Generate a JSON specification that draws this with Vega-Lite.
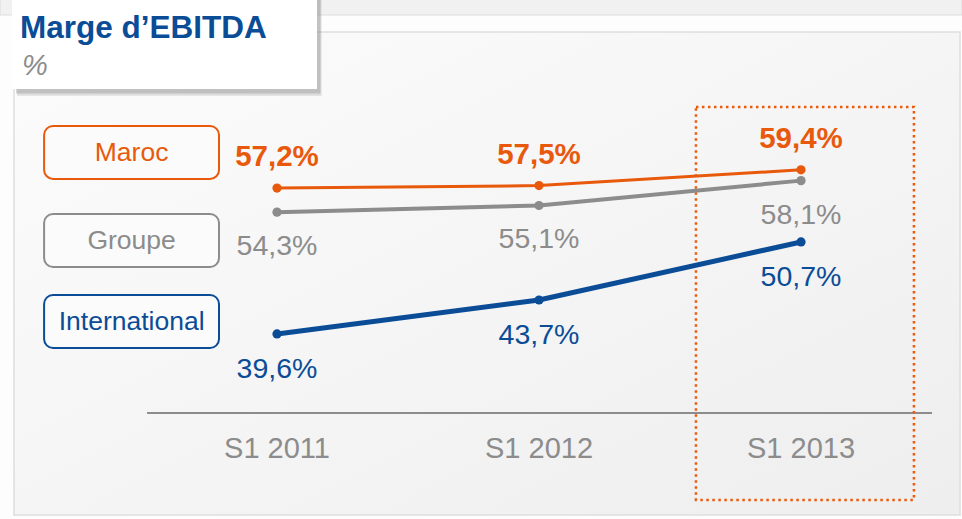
{
  "$schema": "https://vega.github.io/schema/vega-lite/v6.json",
  "width": 962,
  "height": 519,
  "autosize": {"type": "none"},
  "padding": 0,
  "background": "#fdfdfd",
  "config": {"view": {"stroke": null}, "font": "Liberation Sans"},
  "datasets": {
    "series": [
      {"series": "Maroc", "period": "S1 2011", "t": 0, "v": 57.2, "label": "57,2%"},
      {"series": "Maroc", "period": "S1 2012", "t": 1, "v": 57.5, "label": "57,5%"},
      {"series": "Maroc", "period": "S1 2013", "t": 2, "v": 59.4, "label": "59,4%"},
      {"series": "Groupe", "period": "S1 2011", "t": 0, "v": 54.3, "label": "54,3%"},
      {"series": "Groupe", "period": "S1 2012", "t": 1, "v": 55.1, "label": "55,1%"},
      {"series": "Groupe", "period": "S1 2013", "t": 2, "v": 58.1, "label": "58,1%"},
      {"series": "International", "period": "S1 2011", "t": 0, "v": 39.6, "label": "39,6%"},
      {"series": "International", "period": "S1 2012", "t": 1, "v": 43.7, "label": "43,7%"},
      {"series": "International", "period": "S1 2013", "t": 2, "v": 50.7, "label": "50,7%"}
    ]
  },
  "encoding": {
    "x": {"field": "t", "type": "quantitative", "axis": null, "scale": {"domain": [-1.0573, 2.6145], "nice": false, "zero": false}},
    "y": {"field": "v", "type": "quantitative", "axis": null, "scale": {"domain": [17.28, 79.89], "nice": false, "zero": false}}
  },
  "layer": [
    {
      "data": {"values": [{"t": -1.0573, "t2": 2.6145, "v": 82, "v2": 78.08}]},
      "mark": {"type": "rect", "fill": "#f1f1f1", "stroke": "#dcdcdc", "strokeWidth": 1},
      "encoding": {"x2": {"field": "t2"}, "y2": {"field": "v2"}}
    },
    {
      "data": {"values": [{"t": -1.004, "t2": 2.607, "v": 76.03, "v2": 17.77}]},
      "mark": {"type": "rect", "stroke": "#dedede", "strokeWidth": 1.5,
        "fill": {"gradient": "linear", "x1": 0, "y1": 0, "x2": 1, "y2": 1,
          "stops": [{"offset": 0, "color": "#fcfcfc"}, {"offset": 1, "color": "#eeeeee"}]}},
      "encoding": {"x2": {"field": "t2"}, "y2": {"field": "v2"}}
    },
    {
      "data": {"values": [
        {"t": -0.992, "t2": 0.170, "v": 82, "v2": 68.35, "o": 0.25},
        {"t": -0.996, "t2": 0.166, "v": 82, "v2": 68.6, "o": 0.35}
      ]},
      "mark": {"type": "rect", "fill": "#8a8a8a"},
      "encoding": {"x2": {"field": "t2"}, "y2": {"field": "v2"}, "opacity": {"field": "o", "type": "quantitative", "scale": null}}
    },
    {
      "data": {"values": [{"t": -1.0115, "t2": 0.1527, "v": 82, "v2": 69.15}]},
      "mark": {"type": "rect", "fill": "#ffffff"},
      "encoding": {"x2": {"field": "t2"}, "y2": {"field": "v2"}}
    },
    {
      "data": {"values": [{"t": -0.981, "v": 75.31, "text": "Marge d’EBITDA"}]},
      "mark": {"type": "text", "align": "left", "baseline": "alphabetic", "fontSize": 31.5, "fontWeight": "bold", "color": "#0b4c97"},
      "encoding": {"text": {"field": "text"}}
    },
    {
      "data": {"values": [{"t": -0.973, "v": 70.84, "text": "%"}]},
      "mark": {"type": "text", "align": "left", "baseline": "alphabetic", "fontSize": 29, "fontStyle": "italic", "color": "#8c8c8c"},
      "encoding": {"text": {"field": "text"}}
    },
    {
      "data": {"values": [
        {"series": "Maroc", "t": -0.889, "t2": -0.2214, "v": 64.69, "v2": 58.30},
        {"series": "Groupe", "t": -0.889, "t2": -0.2214, "v": 54.08, "v2": 47.68},
        {"series": "International", "t": -0.889, "t2": -0.2214, "v": 44.30, "v2": 37.91}
      ]},
      "mark": {"type": "rect", "fill": "#fbfbfb", "cornerRadius": 9, "strokeWidth": 2},
      "encoding": {
        "x2": {"field": "t2"},
        "y2": {"field": "v2"},
        "stroke": {"field": "series", "type": "nominal", "legend": null,
          "scale": {"domain": ["Maroc", "Groupe", "International"], "range": ["#e8590c", "#8c8c8c", "#0b4c97"]}}
      }
    },
    {
      "data": {"values": [
        {"series": "Maroc", "t": -0.555, "v": 61.43},
        {"series": "Groupe", "t": -0.555, "v": 50.82},
        {"series": "International", "t": -0.555, "v": 41.05}
      ]},
      "mark": {"type": "text", "align": "center", "baseline": "middle", "fontSize": 26.5},
      "encoding": {
        "text": {"field": "series"},
        "color": {"field": "series", "type": "nominal", "legend": null,
          "scale": {"domain": ["Maroc", "Groupe", "International"], "range": ["#e8590c", "#8c8c8c", "#0b4c97"]}}
      }
    },
    {
      "data": {"values": [{"t": -0.496, "t2": 2.5, "v": 30.07}]},
      "mark": {"type": "rule", "color": "#8c8c8c", "strokeWidth": 2},
      "encoding": {"x2": {"field": "t2"}}
    },
    {
      "data": {"values": [
        {"t": 0, "v": 25.73, "label": "S1 2011"},
        {"t": 1, "v": 25.73, "label": "S1 2012"},
        {"t": 2, "v": 25.73, "label": "S1 2013"}
      ]},
      "mark": {"type": "text", "align": "center", "baseline": "middle", "fontSize": 29, "color": "#8c8c8c"},
      "encoding": {"text": {"field": "label"}}
    },
    {
      "data": {"values": [{"t": 1.599, "t2": 2.431, "v": 66.98, "v2": 19.58}]},
      "mark": {"type": "rect", "fill": null, "fillOpacity": 0, "stroke": "#ec5a0c", "strokeWidth": 2.5, "strokeDash": [2.5, 3.5]},
      "encoding": {"x2": {"field": "t2"}, "y2": {"field": "v2"}}
    },
    {
      "data": {"name": "series"},
      "mark": {"type": "line"},
      "encoding": {
        "detail": {"field": "series"},
        "color": {"field": "series", "type": "nominal", "legend": null,
          "scale": {"domain": ["Maroc", "Groupe", "International"], "range": ["#e8590c", "#858585", "#0b4c97"]}},
        "strokeWidth": {"field": "series", "type": "nominal", "legend": null,
          "scale": {"domain": ["Maroc", "Groupe", "International"], "range": [3, 5, 5]}}
      }
    },
    {
      "data": {"name": "series"},
      "mark": {"type": "circle", "size": 85, "opacity": 1},
      "encoding": {
        "color": {"field": "series", "type": "nominal", "legend": null,
          "scale": {"domain": ["Maroc", "Groupe", "International"], "range": ["#e8590c", "#858585", "#0b4c97"]}}
      }
    },
    {
      "data": {"name": "series"},
      "transform": [{"filter": "datum.series === 'Maroc'"}],
      "mark": {"type": "text", "align": "center", "baseline": "middle", "fontSize": 29.5, "fontWeight": "bold", "color": "#e8590c", "dy": -31},
      "encoding": {"text": {"field": "label"}}
    },
    {
      "data": {"name": "series"},
      "transform": [{"filter": "datum.series === 'Groupe'"}],
      "mark": {"type": "text", "align": "center", "baseline": "middle", "fontSize": 28.5, "color": "#8c8c8c", "dy": 34},
      "encoding": {"text": {"field": "label"}}
    },
    {
      "data": {"name": "series"},
      "transform": [{"filter": "datum.series === 'International'"}],
      "mark": {"type": "text", "align": "center", "baseline": "middle", "fontSize": 28.5, "color": "#0b4c97", "dy": 35},
      "encoding": {"text": {"field": "label"}}
    }
  ]
}
